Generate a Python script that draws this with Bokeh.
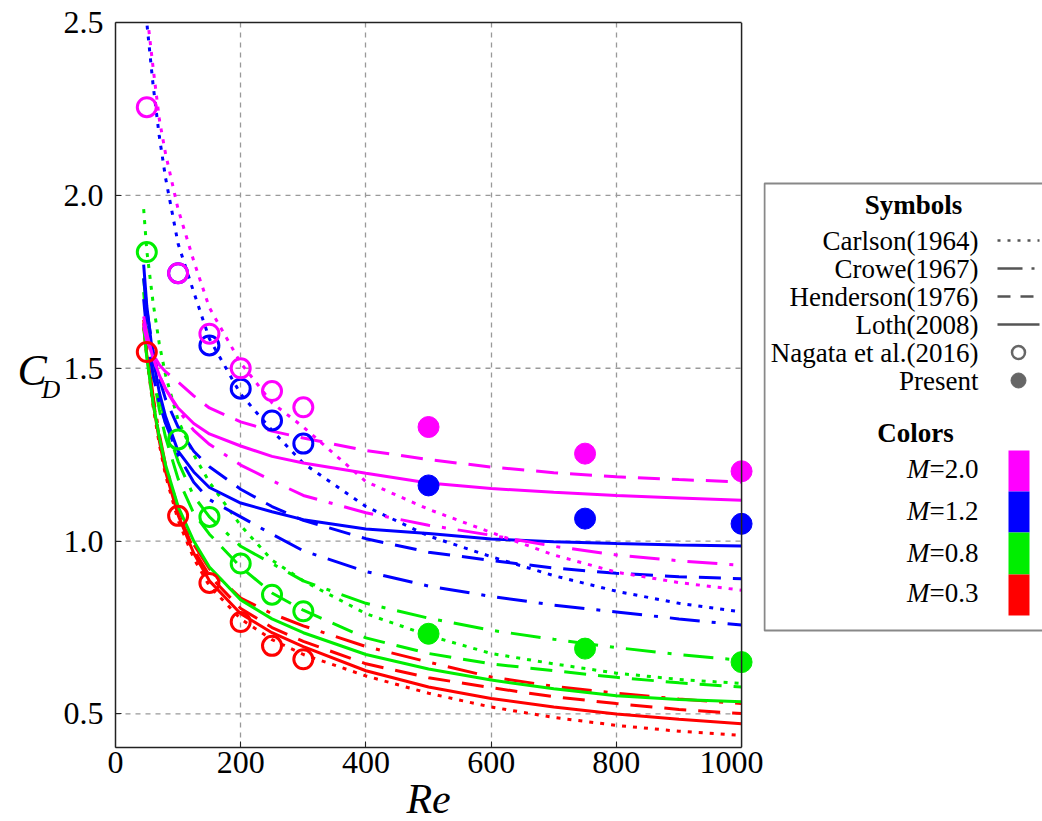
from bokeh.plotting import figure
from bokeh.models import Range1d, FixedTicker, PrintfTickFormatter, LinearAxis, Span
from bokeh.layouts import row, column
from bokeh.core.properties import value
from bokeh.embed import file_html
from bokeh.resources import INLINE

# ---------------- data ----------------
RE = [45, 50, 60, 70, 80, 100, 125, 150, 200, 250, 300, 400, 500, 600, 700, 800, 900, 1000]

# M = 2.0
carlson_m20 = [2.70, 2.53, 2.37, 2.22, 2.12, 1.96, 1.81, 1.675, 1.515, 1.40, 1.33, 1.172, 1.092, 1.025, 0.96, 0.91, 0.88, 0.858]
crowe_m20 = [1.63, 1.59, 1.53, 1.48, 1.44, 1.38, 1.32, 1.28, 1.22, 1.175, 1.132, 1.082, 1.046, 1.017, 0.985, 0.96, 0.943, 0.93]
henderson_m20 = [1.62, 1.58, 1.54, 1.51, 1.49, 1.46, 1.42, 1.385, 1.345, 1.318, 1.298, 1.262, 1.236, 1.214, 1.198, 1.186, 1.178, 1.171]
loth_m20 = [1.65, 1.60, 1.53, 1.48, 1.44, 1.385, 1.34, 1.31, 1.275, 1.245, 1.226, 1.196, 1.168, 1.152, 1.141, 1.132, 1.125, 1.118]
# M = 1.2
carlson_m12 = [2.65, 2.50, 2.32, 2.17, 2.05, 1.86, 1.72, 1.585, 1.425, 1.32, 1.225, 1.10, 1.015, 0.955, 0.90, 0.855, 0.82, 0.795]
crowe_m12 = [1.70, 1.60, 1.48, 1.40, 1.34, 1.25, 1.17, 1.12, 1.07, 1.02, 0.972, 0.912, 0.87, 0.84, 0.815, 0.795, 0.775, 0.757]
henderson_m12 = [1.76, 1.67, 1.55, 1.47, 1.41, 1.33, 1.26, 1.215, 1.15, 1.10, 1.06, 1.007, 0.968, 0.944, 0.922, 0.907, 0.897, 0.891]
loth_m12 = [1.80, 1.68, 1.53, 1.43, 1.36, 1.26, 1.20, 1.155, 1.11, 1.085, 1.062, 1.035, 1.022, 1.006, 0.998, 0.993, 0.989, 0.986]
# M = 0.8
carlson_m08 = [1.96, 1.84, 1.69, 1.57, 1.48, 1.35, 1.25, 1.17, 1.045, 0.945, 0.885, 0.79, 0.727, 0.675, 0.645, 0.618, 0.60, 0.588]
crowe_m08 = [1.76, 1.66, 1.52, 1.42, 1.34, 1.23, 1.13, 1.07, 0.985, 0.935, 0.885, 0.82, 0.777, 0.742, 0.716, 0.692, 0.672, 0.655]
henderson_m08 = [1.72, 1.62, 1.48, 1.38, 1.30, 1.18, 1.08, 1.02, 0.925, 0.85, 0.80, 0.72, 0.675, 0.645, 0.625, 0.606, 0.59, 0.578]
loth_m08 = [1.62, 1.53, 1.40, 1.30, 1.22, 1.10, 1.00, 0.925, 0.83, 0.775, 0.735, 0.672, 0.63, 0.598, 0.573, 0.553, 0.542, 0.535]
# M = 0.3
carlson_m03 = [1.62, 1.53, 1.39, 1.28, 1.19, 1.06, 0.95, 0.87, 0.775, 0.715, 0.672, 0.61, 0.56, 0.52, 0.49, 0.467, 0.45, 0.438]
crowe_m03 = [1.64, 1.56, 1.42, 1.31, 1.22, 1.095, 0.99, 0.92, 0.835, 0.79, 0.755, 0.695, 0.65, 0.607, 0.58, 0.56, 0.543, 0.53]
henderson_m03 = [1.63, 1.55, 1.41, 1.30, 1.21, 1.085, 0.975, 0.90, 0.805, 0.75, 0.71, 0.645, 0.605, 0.576, 0.55, 0.53, 0.513, 0.501]
loth_m03 = [1.62, 1.54, 1.40, 1.29, 1.20, 1.075, 0.965, 0.885, 0.79, 0.735, 0.695, 0.625, 0.578, 0.545, 0.52, 0.50, 0.485, 0.472]

# Nagata et al. (2016), open circles
NAG_RE = [50, 100, 150, 200, 250, 300]
NAG_RE_M12 = [100, 150, 200, 250, 300]
nag_m20 = [2.255, 1.775, 1.600, 1.500, 1.434, 1.387]
nag_m12 = [1.775, 1.566, 1.441, 1.349, 1.282]
nag_m08 = [1.836, 1.294, 1.070, 0.935, 0.845, 0.797]
nag_m03 = [1.547, 1.073, 0.879, 0.766, 0.697, 0.658]

# Present, filled circles
PRE_RE = [500, 750, 1000]
pre_m20 = [1.330, 1.253, 1.202]
pre_m12 = [1.161, 1.065, 1.050]
pre_m08 = [0.732, 0.689, 0.650]

X_TICKS = [0, 200, 400, 600, 800, 1000]
Y_TICKS = [0.5, 1.0, 1.5, 2.0, 2.5]
MODELS = ["Carlson(1964)", "Crowe(1967)", "Henderson(1976)", "Loth(2008)", "Nagata et al.(2016)", "Present"]
MACH = ["2.0", "1.2", "0.8", "0.3"]

# ---------------- styles ----------------
SERIF = "Liberation Serif"
COL = {"2.0": "#ff00ff", "1.2": "#0000ff", "0.8": "#00ee00", "0.3": "#ff0000"}
DASH = {"carlson": "4 7", "crowe": "30 12 4 12", "henderson": "22 12", "loth": "solid"}

curves = {
    "0.3": {"carlson": carlson_m03, "crowe": crowe_m03, "henderson": henderson_m03, "loth": loth_m03},
    "0.8": {"carlson": carlson_m08, "crowe": crowe_m08, "henderson": henderson_m08, "loth": loth_m08},
    "1.2": {"carlson": carlson_m12, "crowe": crowe_m12, "henderson": henderson_m12, "loth": loth_m12},
    "2.0": {"carlson": carlson_m20, "crowe": crowe_m20, "henderson": henderson_m20, "loth": loth_m20},
}

H = 821
P_H = 787                # main plot height (frame 22..747 + tick labels)
XLAB_H = 50              # title strip below, overlapping the plot by OVERLAP px
OVERLAP = P_H + XLAB_H - H
YLAB_W = 60
FRAME_L = 113
FRAME_W = 650
PX_PER_1000 = 628.0
P_W = FRAME_L - YLAB_W + FRAME_W
P_BL = FRAME_L - YLAB_W   # left border of the main plot

def blank(w, h, x0=0, y0=0, left=0, transparent=False):
    # a bare figure whose data coordinates equal page pixels
    f = figure(width=w, height=h, x_range=Range1d(x0, x0 + w - left), y_range=Range1d(y0 + h, y0),
               toolbar_location=None, output_backend="svg", x_axis_type=None, y_axis_type=None,
               min_border=0, min_border_left=left, outline_line_color=None,
               background_fill_color="white", border_fill_color="white")
    if transparent:
        f.background_fill_alpha = 0
        f.border_fill_alpha = 0
    f.grid.visible = False
    return f

# ---------------- y-axis title panel ----------------
ylab = blank(YLAB_W, H)
ylab.text(x=[17], y=[370], text=["C"], text_font=value(SERIF), text_font_style="italic",
          text_font_size="44px", text_align="left", text_baseline="middle", text_color="black")
ylab.text(x=[41], y=[389], text=["D"], text_font=value(SERIF), text_font_style="italic",
          text_font_size="26px", text_align="left", text_baseline="middle", text_color="black")

# ---------------- main plot ----------------
p = figure(width=P_W, height=P_H,
           x_range=Range1d(0, 1000 * FRAME_W / PX_PER_1000), y_range=Range1d(0.403, 2.5),
           toolbar_location=None, output_backend="svg",
           min_border_left=P_BL, min_border_right=0, min_border_top=22,
           min_border_bottom=P_H - 747,
           outline_line_color=None, background_fill_color="white", border_fill_color="white")

for ax in (p.xaxis[0], p.yaxis[0]):
    ax.major_label_text_font = SERIF
    ax.major_label_text_font_size = "32px"
    ax.major_label_text_color = "black"
    ax.axis_line_color = "#222222"
    ax.axis_line_width = 1.5
    ax.major_tick_in = 6
    ax.major_tick_out = 0
    ax.major_tick_line_color = "#222222"
    ax.minor_tick_line_color = None
p.xaxis[0].ticker = FixedTicker(ticks=X_TICKS)
p.xaxis[0].bounds = (0, 1000)
p.xaxis[0].major_label_standoff = 4
p.yaxis[0].ticker = FixedTicker(ticks=Y_TICKS)
p.yaxis[0].formatter = PrintfTickFormatter(format="%.1f")
p.yaxis[0].major_label_standoff = 12

top = LinearAxis(bounds=(0, 1000), ticker=FixedTicker(ticks=[]), axis_line_color="#222222",
                 axis_line_width=1.5, major_tick_in=0, major_tick_out=0, minor_tick_in=0,
                 minor_tick_out=0, major_label_text_font_size="0px", major_label_standoff=0)
p.add_layout(top, "above")

# grid
p.xgrid.ticker = FixedTicker(ticks=X_TICKS[1:-1])
p.xgrid.grid_line_color = "#999999"
p.xgrid.grid_line_dash = "5 5"
p.xgrid.grid_line_width = 1.3
p.ygrid.visible = False
yg = Y_TICKS[:-1]
p.segment(x0=[X_TICKS[0]] * len(yg), x1=[X_TICKS[-1]] * len(yg), y0=yg, y1=yg,
          line_color="#999999", line_dash="5 5", line_width=1.3)

# curves
for m in ["0.3", "0.8", "1.2", "2.0"]:
    for model in ["carlson", "crowe", "henderson", "loth"]:
        p.line(RE, curves[m][model], line_color=COL[m], line_width=3, line_dash=DASH[model])

# symbols
for xs, ys, m in [(NAG_RE, nag_m03, "0.3"), (NAG_RE, nag_m08, "0.8"),
                  (NAG_RE_M12, nag_m12, "1.2"), (NAG_RE, nag_m20, "2.0")]:
    p.scatter(xs, ys, marker="circle", size=19, fill_color=None, line_color=COL[m], line_width=3)
for ys, m in [(pre_m08, "0.8"), (pre_m12, "1.2"), (pre_m20, "2.0")]:
    p.scatter(PRE_RE, ys, marker="circle", size=21, fill_color=COL[m], line_color=COL[m], line_width=1)

p.add_layout(Span(location=X_TICKS[-1], dimension="height", line_color="#222222", line_width=1.5))

# ---------------- x-axis title strip (page coordinates, transparent) ----------------
xlab = blank(P_W, XLAB_H, x0=FRAME_L, y0=H - XLAB_H, left=P_BL, transparent=True)
xlab.margin = (-OVERLAP, 0, 0, 0)
xlab.text(x=[427], y=[798], text=["Re"], text_font=value(SERIF), text_font_style="italic",
          text_font_size="42px", text_align="center", text_baseline="middle", text_color="black")

# ---------------- legend panel ----------------
LW = 1042 - (FRAME_L + FRAME_W)
leg = blank(LW, H)
leg.quad(left=[1], right=[330], top=[183], bottom=[630], fill_color="white",
         line_color="#888888", line_width=2)

FS = "27px"
rows_y = [240, 268, 296, 324, 352, 380]
leg.text(x=[150], y=[204], text=["Symbols"], text_font=value(SERIF), text_font_style="bold",
         text_font_size=FS, text_align="center", text_baseline="middle", text_color="black")
leg.text(x=[215] * len(MODELS), y=rows_y, text=MODELS, text_font=value(SERIF),
         text_font_size=FS, text_align="right", text_baseline="middle", text_color="black")
GRAY = "#555555"
leg.line([234, 276], [rows_y[0]] * 2, line_color=GRAY, line_width=2.5, line_dash="3 7")
leg.line([234, 276], [rows_y[1]] * 2, line_color=GRAY, line_width=2.5, line_dash="25 9 3 20")
leg.line([234, 276], [rows_y[2]] * 2, line_color=GRAY, line_width=2.5, line_dash="13 10")
leg.line([234, 276], [rows_y[3]] * 2, line_color=GRAY, line_width=2.5)
leg.scatter([255], [rows_y[4]], marker="circle", size=13, fill_color=None, line_color="#666666", line_width=2.5)
leg.scatter([255], [rows_y[5]], marker="circle", size=15, fill_color="#666666", line_color="#666666")

leg.text(x=[152], y=[432], text=["Colors"], text_font=value(SERIF), text_font_style="bold",
         text_font_size=FS, text_align="center", text_baseline="middle", text_color="black")
mach_y = [468, 510, 552, 592]
leg.text(x=[215] * 4, y=mach_y, text=["=" + m for m in MACH], text_font=value(SERIF),
         text_font_size=FS, text_align="right", text_baseline="middle", text_color="black")
leg.text(x=[166] * 4, y=mach_y, text=["M"] * 4, text_font=value(SERIF), text_font_style="italic",
         text_font_size=FS, text_align="right", text_baseline="middle", text_color="black")
sw_top = [450, 491, 532, 574]
sw_bot = [491, 532, 574, 615]
leg.quad(left=[245] * 4, right=[266] * 4, top=sw_top, bottom=sw_bot,
         fill_color=[COL[m] for m in MACH], line_color=None)

layout = row(ylab, column(p, xlab), leg)
open("out.html", "w").write(file_html(layout, INLINE))
